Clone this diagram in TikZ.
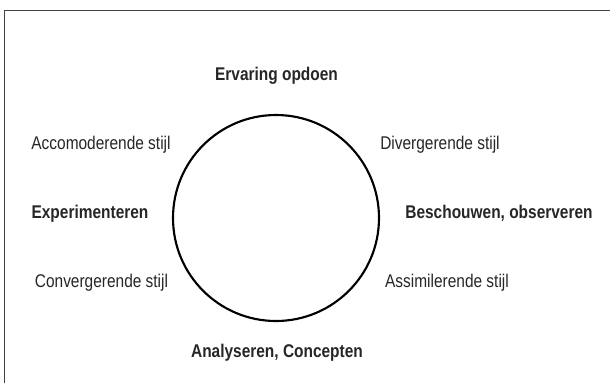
\documentclass[tikz,border=0pt]{standalone}
\usepackage{fontspec}
\setmainfont{Liberation Sans}[FakeStretch=0.84]
\usepackage{tikz}

\begin{document}
\begin{tikzpicture}[
        x=0.75pt, y=-0.75pt,
        frame/.style={draw=black!75, line width=1.3pt},
        cycle/.style={circle, draw=black, line width=1.6pt, minimum size=154.5pt, inner sep=0pt},
        fase/.style={anchor=base, font=\fontsize{13.8}{15}\selectfont\bfseries, text=black!85},
        stijl/.style={anchor=base, font=\fontsize{13.8}{15}\selectfont, text=black!85}
    ]
        \useasboundingbox (0,0) rectangle (610,383);
        % Frame (open to the right and bottom)
        \draw[frame] (4.5,383) -- (4.5,10.5) -- (610,10.5);

        % Learning cycle
        \node[cycle] (kring) at (276,218) {};

        % Phases
        \node[fase] (ervaring) at (276.5,80) {Ervaring opdoen};
        \node[fase] (beschouwen) at (499,218) {Beschouwen, observeren};
        \node[fase] (analyseren) at (277,357) {Analyseren, Concepten};
        \node[fase] (experimenteren) at (90,218) {Experimenteren};

        % Styles
        \node[stijl] (accomoderend) at (101,149) {Accomoderende stijl};
        \node[stijl] (divergerend) at (440,149) {Divergerende stijl};
        \node[stijl] (convergerend) at (101.5,287) {Convergerende stijl};
        \node[stijl] (assimilerend) at (447,287) {Assimilerende stijl};
\end{tikzpicture}
\end{document}
